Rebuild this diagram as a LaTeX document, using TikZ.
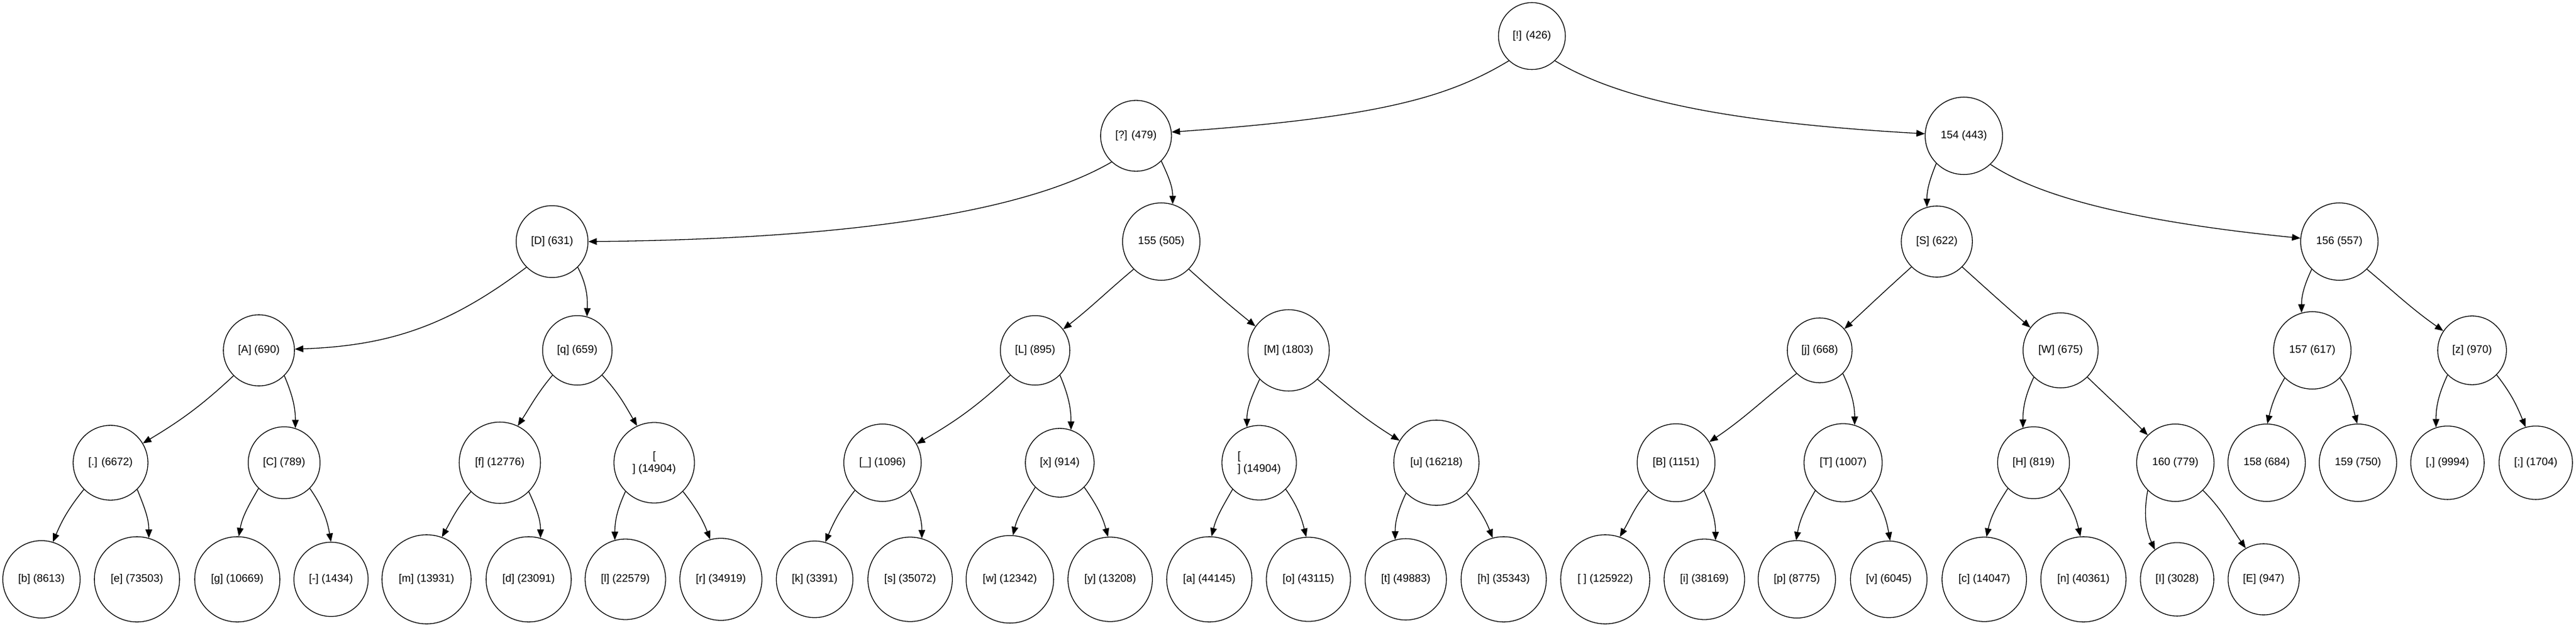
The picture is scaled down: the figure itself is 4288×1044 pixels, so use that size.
\documentclass[tikz,border=0pt]{standalone}
\usepackage{fontspec}
\setmainfont{Liberation Sans}
\usetikzlibrary{arrows.meta}
\newcommand\labfont{\fontsize{18}{21}\selectfont}
\newlength\labw
\newcommand\mw[2]{\settowidth\labw{\labfont #2}\expandafter\xdef\csname wid#1\endcsname{\the\labw}}
\AtBeginDocument{%
\mw{root}{[!] (426)}%
\mw{qm}{[?] (479)}%
\mw{n154}{154 (443)}%
\mw{D}{[D] (631)}%
\mw{n155}{155 (505)}%
\mw{S}{[S] (622)}%
\mw{n156}{156 (557)}%
\mw{A}{[A] (690)}%
\mw{q}{[q] (659)}%
\mw{L}{[L] (895)}%
\mw{M}{[M] (1803)}%
\mw{j}{[j] (668)}%
\mw{W}{[W] (675)}%
\mw{n157}{157 (617)}%
\mw{z}{[z] (970)}%
\mw{dot}{[.] (6672)}%
\mw{C}{[C] (789)}%
\mw{f}{[f] (12776)}%
\mw{us}{[\_] (1096)}%
\mw{x}{[x] (914)}%
\mw{u}{[u] (16218)}%
\mw{B}{[B] (1151)}%
\mw{T}{[T] (1007)}%
\mw{H}{[H] (819)}%
\mw{n160}{160 (779)}%
\mw{n158}{158 (684)}%
\mw{n159}{159 (750)}%
\mw{comma}{[,] (9994)}%
\mw{semi}{[;] (1704)}%
\mw{b}{[b] (8613)}%
\mw{e}{[e] (73503)}%
\mw{g}{[g] (10669)}%
\mw{hy}{[-] (1434)}%
\mw{m}{[m] (13931)}%
\mw{d}{[d] (23091)}%
\mw{l}{[l] (22579)}%
\mw{r}{[r] (34919)}%
\mw{k}{[k] (3391)}%
\mw{s}{[s] (35072)}%
\mw{w}{[w] (12342)}%
\mw{y}{[y] (13208)}%
\mw{a}{[a] (44145)}%
\mw{o}{[o] (43115)}%
\mw{t}{[t] (49883)}%
\mw{h}{[h] (35343)}%
\mw{sp}{[ ] (125922)}%
\mw{i}{[i] (38169)}%
\mw{p}{[p] (8775)}%
\mw{v}{[v] (6045)}%
\mw{c}{[c] (14047)}%
\mw{n}{[n] (40361)}%
\mw{I}{[I] (3028)}%
\mw{E}{[E] (947)}%
}
\tikzset{
  hnode/.style={circle, draw, line width=1.3pt, inner sep=0pt, font=\labfont, text=black},
  hedge/.style={line width=1.3pt, -{Triangle[length=14pt,width=11pt]}},
}
\newcommand\hn[4]{%
  \pgfmathsetmacro\hd{1.304*\csname wid#1\endcsname+28.28}%
  \node[hnode, minimum size=\hd pt] (#1) at (#2,-#3) {#4};}
\newcommand\he[6]{\draw[hedge] (#1.#3) to[out=#4,in=#6] (#2.#5);}
\begin{document}
\begin{tikzpicture}[x=1pt,y=1pt]
\fill[white] (0,-1044) rectangle (4288,0);
\useasboundingbox (0,-1044) rectangle (4288,0);
% level 0-2
\hn{root}{2550}{60}{[!] (426)}
\hn{qm}{1891}{226}{[?] (479)}
\hn{n154}{3269}{226}{154 (443)}
\hn{D}{919}{402}{[D] (631)}
\hn{n155}{1933}{402}{155 (505)}
\hn{S}{3224}{402}{[S] (622)}
\hn{n156}{3894}{402}{156 (557)}
% level 3
\hn{A}{431}{583}{[A] (690)}
\hn{q}{961}{583}{[q] (659)}
\hn{L}{1723}{583}{[L] (895)}
\hn{M}{2145}{583}{[M] (1803)}
\hn{j}{3029}{583}{[j] (668)}
\hn{W}{3430}{583}{[W] (675)}
\hn{n157}{3849}{583}{157 (617)}
\hn{z}{4115}{583}{[z] (970)}
% level 4
\hn{dot}{184}{770}{[.] (6672)}
\hn{C}{473}{770}{[C] (789)}
\hn{f}{832}{770}{[f] (12776)}
\node[hnode, minimum size=134pt, align=center] (nl1) at (1089,-770) {[\\] (14904)};
\hn{us}{1469}{770}{[\_] (1096)}
\hn{x}{1764}{770}{[x] (914)}
\node[hnode, minimum size=124pt, align=left] (nl2) at (2096,-770) {[\\] (14904)};
\hn{u}{2391}{770}{[u] (16218)}
\hn{B}{2790}{770}{[B] (1151)}
\hn{T}{3068}{770}{[T] (1007)}
\hn{H}{3385}{770}{[H] (819)}
\hn{n160}{3621}{770}{160 (779)}
\hn{n158}{3773}{770}{158 (684)}
\hn{n159}{3925}{770}{159 (750)}
\hn{comma}{4074}{770}{[,] (9994)}
\hn{semi}{4221}{770}{[;] (1704)}
% level 5
\hn{b}{69}{964}{[b] (8613)}
\hn{e}{228}{964}{[e] (73503)}
\hn{g}{395}{964}{[g] (10669)}
\hn{hy}{551}{964}{[-] (1434)}
\hn{m}{710}{964}{[m] (13931)}
\hn{d}{880}{964}{[d] (23091)}
\hn{l}{1041}{964}{[l] (22579)}
\hn{r}{1200}{964}{[r] (34919)}
\hn{k}{1356}{964}{[k] (3391)}
\hn{s}{1515}{964}{[s] (35072)}
\hn{w}{1681}{964}{[w] (12342)}
\hn{y}{1848}{964}{[y] (13208)}
\hn{a}{2013}{964}{[a] (44145)}
\hn{o}{2178}{964}{[o] (43115)}
\hn{t}{2340}{964}{[t] (49883)}
\hn{h}{2503}{964}{[h] (35343)}
\hn{sp}{2672}{964}{[ ] (125922)}
\hn{i}{2837}{964}{[i] (38169)}
\hn{p}{2991}{964}{[p] (8775)}
\hn{v}{3144}{964}{[v] (6045)}
\hn{c}{3303}{964}{[c] (14047)}
\hn{n}{3468}{964}{[n] (40361)}
\hn{I}{3624}{964}{[I] (3028)}
\hn{E}{3768}{964}{[E] (947)}
% long edges
\draw[hedge] (root.227) .. controls +(-100,-60) and +(350,25) .. (qm.6);
\draw[hedge] (root.313) .. controls +(100,-60) and +(-350,20) .. (n154.177);
\draw[hedge] (qm.227) .. controls +(-120,-70) and +(500,5) .. (D.0);
\draw[hedge] (n154.313) .. controls +(90,-60) and +(-250,25) .. (n156.175);
% other edges
\he{qm}{n155}{315}{-65}{73}{90}
\he{D}{A}{225}{217}{2}{2}
\he{D}{q}{315}{-63}{74}{88}
\he{A}{dot}{225}{223}{31}{31}
\he{A}{C}{315}{-67}{72}{90}
\he{dot}{b}{225}{231}{73}{67}
\he{dot}{e}{315}{-68}{74}{90}
\he{C}{g}{225}{240}{88}{80}
\he{C}{hy}{315}{-55}{90}{100}
\he{q}{f}{225}{230}{64}{57}
\he{q}{nl1}{315}{-47}{115}{120}
\he{f}{m}{225}{229}{70}{61}
\he{f}{d}{315}{-65}{74}{90}
\he{nl1}{l}{225}{245}{105}{90}
\he{nl1}{r}{315}{-52}{105}{111}
\he{n155}{L}{225}{220}{37}{38}
\he{n155}{M}{315}{-42}{144}{141}
\he{L}{us}{225}{223}{29}{30}
\he{L}{x}{315}{-67}{71}{90}
\he{us}{k}{225}{232}{74}{67}
\he{us}{s}{315}{-65}{74}{90}
\he{x}{w}{225}{240}{86}{76}
\he{x}{y}{315}{-55}{93}{105}
\he{M}{nl2}{225}{245}{109}{90}
\he{M}{u}{315}{-40}{149}{148}
\he{nl2}{a}{225}{240}{87}{76}
\he{nl2}{o}{315}{-55}{93}{104}
\he{u}{t}{225}{245}{105}{90}
\he{u}{h}{315}{-52}{105}{111}
\he{n154}{S}{225}{248}{106}{90}
\he{S}{j}{225}{222}{41}{43}
\he{S}{W}{315}{-42}{143}{139}
\he{j}{B}{225}{218}{32}{34}
\he{j}{T}{315}{-65}{73}{90}
\he{B}{sp}{225}{230}{71}{60}
\he{B}{i}{315}{-65}{74}{90}
\he{T}{p}{225}{240}{91}{80}
\he{T}{v}{315}{-55}{88}{100}
\he{W}{H}{225}{245}{107}{90}
\he{W}{n160}{315}{-44}{135}{135}
\he{H}{c}{225}{237}{87}{78}
\he{H}{n}{315}{-55}{94}{103}
\he{n160}{I}{225}{260}{127}{114}
\he{n160}{E}{315}{-45}{120}{125}
\he{n156}{n157}{225}{245}{106}{90}
\he{n156}{z}{315}{-40}{146}{145}
\he{n157}{n158}{225}{240}{89}{77}
\he{n157}{n159}{315}{-55}{91}{105}
\he{z}{comma}{225}{245}{108}{90}
\he{z}{semi}{315}{-52}{106}{112}
\end{tikzpicture}
\end{document}
